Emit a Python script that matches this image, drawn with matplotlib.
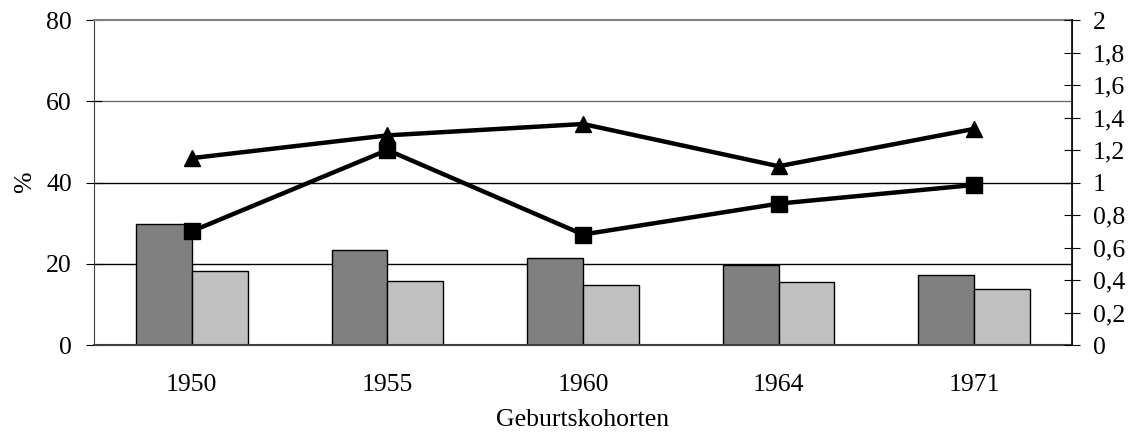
import numpy as np
import matplotlib
matplotlib.use("Agg")
import matplotlib.pyplot as plt

cohorts = ["1950", "1955", "1960", "1964", "1971"]
bar_dark = [29.8, 23.4, 21.4, 19.7, 17.2]
bar_light = [18.2, 15.8, 14.8, 15.5, 13.8]
tri_line = [1.15, 1.29, 1.36, 1.10, 1.33]
sq_line = [0.70, 1.20, 0.68, 0.87, 0.985]
right_ticks = [0, 0.2, 0.4, 0.6, 0.8, 1, 1.2, 1.4, 1.6, 1.8, 2]
right_labels = ["0", "0,2", "0,4", "0,6", "0,8", "1", "1,2", "1,4", "1,6", "1,8", "2"]

plt.rcParams["font.family"] = ["Liberation Serif", "DejaVu Serif"]
plt.rcParams["font.size"] = 18.5

fig = plt.figure(figsize=(11.31, 4.36), dpi=100)
ax = fig.add_axes([94/1131, 1-345/436, (1072-94)/1131, (345-20)/436])
x = np.arange(len(cohorts))
w = 0.285
ax.bar(x - w/2, bar_dark, w, color="#808080", edgecolor="black", lw=1, zorder=2)
ax.bar(x + w/2, bar_light, w, color="#c0c0c0", edgecolor="black", lw=1, zorder=2)
ax.set_xlim(-0.5, len(cohorts) - 0.5)
ax.set_ylim(0, 80)
ax.set_yticks([0, 20, 40, 60, 80])
ax.set_xticks(x)
ax.set_xticklabels(cohorts)
ax.tick_params(axis="x", length=0, pad=21)
ax.tick_params(axis="y", direction="inout", length=12, pad=10)
ax.axhline(60, color="#707070", lw=1, zorder=1)
for v in [20, 40]:
    ax.axhline(v, color="black", lw=1, zorder=1)
for s in ["left", "top", "right"]:
    ax.spines[s].set_color("#808080")
ax.spines["left"].set_color("#404040")
ax.spines["top"].set_linewidth(1.5)
ax.spines["bottom"].set_linewidth(1.5)
ax.spines["bottom"].set_color("#404040")
ax.set_ylabel("%", labelpad=7)
ax.set_xlabel("Geburtskohorten", labelpad=9)

ax2 = ax.twinx()
ax2.plot(x, tri_line, color="black", lw=3.2, marker="^", ms=11, zorder=3)
ax2.plot(x, sq_line, color="black", lw=3.2, marker="s", ms=11, zorder=3)
ax2.set_ylim(0, 2)
ax2.set_yticks(right_ticks)
ax2.set_yticklabels(right_labels)
ax2.tick_params(axis="y", direction="inout", length=12, pad=9, color="black")
ax2.spines["right"].set_color("black")
ax2.spines["right"].set_linewidth(1.2)
for s in ["left", "top", "bottom"]:
    ax2.spines[s].set_visible(False)

fig.savefig("out.png", dpi=100)
